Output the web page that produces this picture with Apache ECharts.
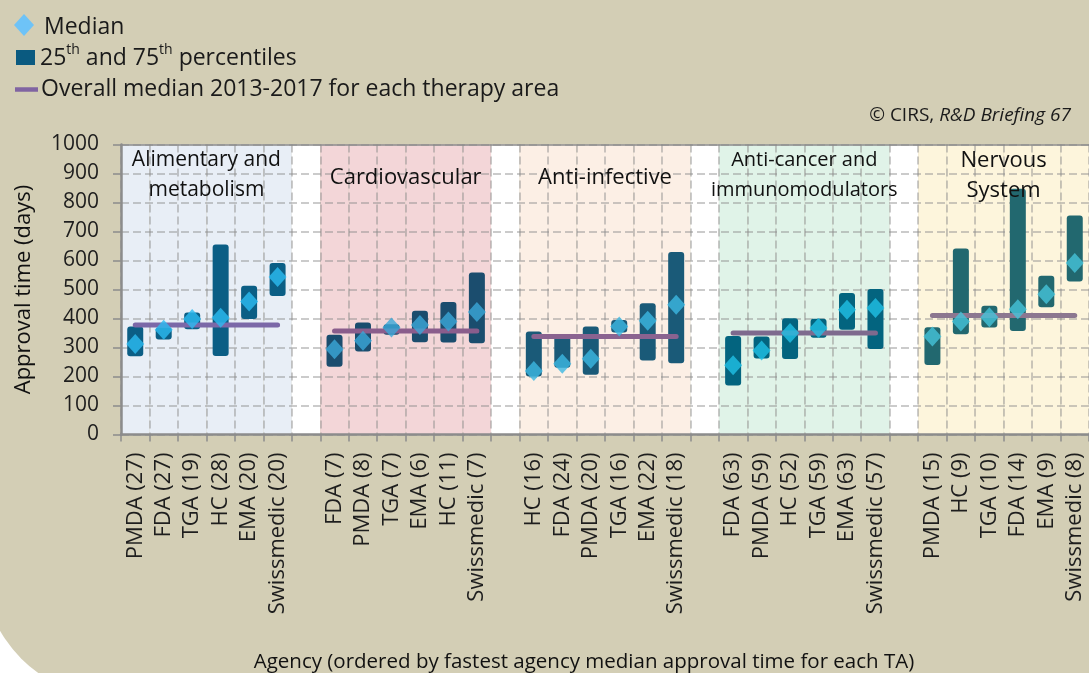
<!DOCTYPE html>
<html><head><meta charset="utf-8">
<script src="https://cdn.jsdelivr.net/npm/echarts@6/dist/echarts.min.js"></script>
<style>html,body{margin:0;padding:0;background:#fff}#c{width:1089px;height:673px}</style>
</head><body><div id="c"></div>
<script>
// ---- data ----
const therapyAreas = ['Alimentary and\nmetabolism', 'Cardiovascular', 'Anti-infective', 'Anti-cancer and\nimmunomodulators', 'Nervous\nSystem'];
const agencies = [
  ['PMDA (27)', 'FDA (27)', 'TGA (19)', 'HC (28)', 'EMA (20)', 'Swissmedic (20)'],
  ['FDA (7)', 'PMDA (8)', 'TGA (7)', 'EMA (6)', 'HC (11)', 'Swissmedic (7)'],
  ['HC (16)', 'FDA (24)', 'PMDA (20)', 'TGA (16)', 'EMA (22)', 'Swissmedic (18)'],
  ['FDA (63)', 'PMDA (59)', 'HC (52)', 'TGA (59)', 'EMA (63)', 'Swissmedic (57)'],
  ['PMDA (15)', 'HC (9)', 'TGA (10)', 'FDA (14)', 'EMA (9)', 'Swissmedic (8)']
];
const p25 = [
  [270, 328, 363, 271, 398, 478],
  [234, 286, 344, 318, 317, 315],
  [200, 230, 206, 352, 255, 246],
  [169, 262, 260, 334, 361, 295],
  [240, 346, 369, 357, 439, 528]
];
const p75 = [
  [372, 370, 421, 655, 513, 591],
  [344, 386, 380, 427, 457, 559],
  [355, 340, 372, 395, 453, 629],
  [340, 338, 401, 399, 488, 502],
  [370, 641, 444, 847, 547, 755]
];
const median = [
  [312, 361, 398, 403, 459, 543],
  [294, 323, 369, 378, 390, 422],
  [219, 244, 261, 372, 392, 447],
  [239, 290, 350, 367, 430, 436],
  [338, 390, 404, 432, 484, 591]
];
const overallMedian = [378, 357, 338, 350, 410];
const yTicks = {min: 0, max: 1000, interval: 100};

// ---- styles ----
const bandColors = ['#e8eef6', '#f3d6d8', '#fcefe5', '#e0f3e8', '#fdf5dc'];
const barColors = ['#0b5e85', '#1b4d6e', '#1a5a78', '#03647f', '#22686f'];
const diamondColors = ['#2cbcf1', '#3ba8d8', '#3cb8e2', '#21c1e6', '#46c3d9'];
const lineColors = ['#7b68a8', '#8a5d8c', '#8a6390', '#7e6a8e', '#8c7790'];
const groupLabelSize = [21, 22, 22, 20, 22];
const FONT = '"Open Sans", "Noto Sans", sans-serif';
const gridColor = 'rgba(140,140,140,0.6)';
const axisGray = '#8c8c8c';

// ---- build ----
const categories = [], bandData = [], baseData = [], rangeData = [], medData = [], groupStart = [];
agencies.forEach((ags, g) => {
  groupStart.push(categories.length);
  ags.forEach((a, j) => {
    const idx = categories.length;
    categories.push(a);
    bandData.push({value: yTicks.max, itemStyle: {color: bandColors[g]}});
    baseData.push(p25[g][j]);
    rangeData.push({value: p75[g][j] - p25[g][j], itemStyle: {color: barColors[g]}});
    medData.push({value: [idx, median[g][j]], itemStyle: {color: diamondColors[g]}});
  });
  if (g < agencies.length - 1) {
    categories.push(' '.repeat(g + 1));
    bandData.push({value: yTicks.max, itemStyle: {color: '#ffffff'}});
    baseData.push('-');
    rangeData.push('-');
  }
});

const lineSeries = overallMedian.map((m, g) => ({
  type: 'line', xAxisIndex: 0, z: 6, symbol: 'none', silent: true,
  lineStyle: {color: lineColors[g], width: 5, cap: 'round'},
  data: categories.map((c, i) => (i >= groupStart[g] && i < groupStart[g] + agencies[g].length) ? m : '-')
}));

const chart = echarts.init(document.getElementById('c'), null, {renderer: 'canvas'});
const option = {
  backgroundColor: '#ffffff',
  animation: false,
  grid: {left: 121, right: -6, top: 144.5, bottom: 238.5, show: false},
  xAxis: [
    {
      type: 'category', data: categories, z: 3,
      axisLine: {lineStyle: {color: axisGray, width: 2.5}},
      axisTick: {show: true, interval: 0, length: 7, lineStyle: {color: axisGray, width: 1.5}},
      axisLabel: {interval: 0, rotate: 90, margin: 18, fontFamily: FONT, fontSize: 22, color: '#1e1e1e'},
      splitLine: {show: true, interval: 0, lineStyle: {type: [8, 4], color: gridColor, width: 1.5}}
    },
    {type: 'category', data: categories, show: false},
    {
      type: 'category', data: categories, position: 'top', z: 3,
      axisLine: {lineStyle: {color: axisGray, width: 1.5}},
      axisTick: {show: false}, axisLabel: {show: false}, splitLine: {show: false}
    }
  ],
  yAxis: {
    type: 'value', min: yTicks.min, max: yTicks.max, interval: yTicks.interval, z: 3,
    name: 'Approval time (days)', nameLocation: 'middle', nameGap: 86,
    nameTextStyle: {fontFamily: FONT, fontSize: 22, color: '#111', fontWeight: 500},
    axisLine: {show: true, lineStyle: {color: axisGray, width: 2.5}},
    axisTick: {show: true, length: 8, lineStyle: {color: axisGray, width: 1.5}},
    axisLabel: {margin: 22, fontFamily: FONT, fontSize: 21, color: '#1e1e1e', formatter: v => String(v)},
    splitLine: {show: true, lineStyle: {type: [8, 4], color: gridColor, width: 1.5}}
  },
  series: [
    {type: 'bar', xAxisIndex: 1, z: 1, silent: true, barWidth: '100%', data: bandData},
    {type: 'bar', xAxisIndex: 0, stack: 'box', z: 5, silent: true, barWidth: 16,
     itemStyle: {color: 'rgba(0,0,0,0)'}, data: baseData},
    {type: 'bar', xAxisIndex: 0, stack: 'box', z: 5, barWidth: 16,
     itemStyle: {borderRadius: 3}, data: rangeData},
    ...lineSeries,
    {type: 'scatter', xAxisIndex: 0, z: 7, symbol: 'diamond', symbolSize: [18, 20], data: medData}
  ]
};
chart.setOption(option);

// ---- annotations (positioned through the axis) ----
const graphics = [
  {type: 'rect', z: -100, silent: true, shape: {x: -17.5, y: -200, width: 1300, height: 897.5, r: 132.5}, style: {fill: '#d3ceb5'}},
  {type: 'polygon', z: 10, shape: {points: [[24, 14], [34, 25], [24, 36], [14, 25]]}, style: {fill: '#6ec3f7'}},
  {type: 'text', z: 10, x: 44, y: 27, style: {text: 'Median', font: '23px ' + FONT, fill: '#1a1a1a', verticalAlign: 'middle'}},
  {type: 'rect', z: 10, shape: {x: 16, y: 50, width: 19, height: 15}, style: {fill: '#0a5a80'}},
  {type: 'text', z: 10, x: 40, y: 58, style: {
    text: '25{sup|th} and 75{sup|th} percentiles', fontFamily: FONT, fontSize: 23, fill: '#1a1a1a', verticalAlign: 'middle', lineHeight: 30,
    rich: {sup: {fontFamily: FONT, fontSize: 14, fill: '#1a1a1a', verticalAlign: 'top', lineHeight: 30, padding: [0, 0, 6, 0]}}}},
  {type: 'line', z: 10, shape: {x1: 15, y1: 89.5, x2: 38, y2: 89.5}, style: {stroke: '#8064a2', lineWidth: 4.5}},
  {type: 'text', z: 10, x: 41, y: 89, style: {text: 'Overall median 2013-2017 for each therapy area', font: '23px ' + FONT, fill: '#1a1a1a', verticalAlign: 'middle'}},
  {type: 'text', z: 10, x: 1071, y: 116, style: {
    text: '© CIRS, {i|R&D Briefing 67}', fontFamily: FONT, fontSize: 19, fill: '#1a1a1a', align: 'right', verticalAlign: 'middle',
    rich: {i: {fontFamily: FONT, fontSize: 19, fontStyle: 'italic', fill: '#1a1a1a'}}}},
  {type: 'text', z: 10, x: 584, y: 662, style: {text: 'Agency (ordered by fastest agency median approval time for each TA)', font: '500 20.5px ' + FONT, fill: '#111', align: 'center', verticalAlign: 'middle'}}
];
therapyAreas.forEach((name, g) => {
  const s = groupStart[g];
  const n = agencies[g].length;
  const xa = chart.convertToPixel({xAxisIndex: 0}, s + (n / 2 - 1));
  const xb = chart.convertToPixel({xAxisIndex: 0}, s + n / 2);
  const twoLine = name.indexOf('\n') >= 0;
  graphics.push({
    type: 'text', z: 10, x: (xa + xb) / 2, y: twoLine ? 175.5 : 178,
    style: {text: name, fontFamily: FONT, fontSize: groupLabelSize[g], lineHeight: 30,
            fill: '#111', align: 'center', verticalAlign: 'middle'}
  });
});
chart.setOption({graphic: graphics});
</script></body></html>
